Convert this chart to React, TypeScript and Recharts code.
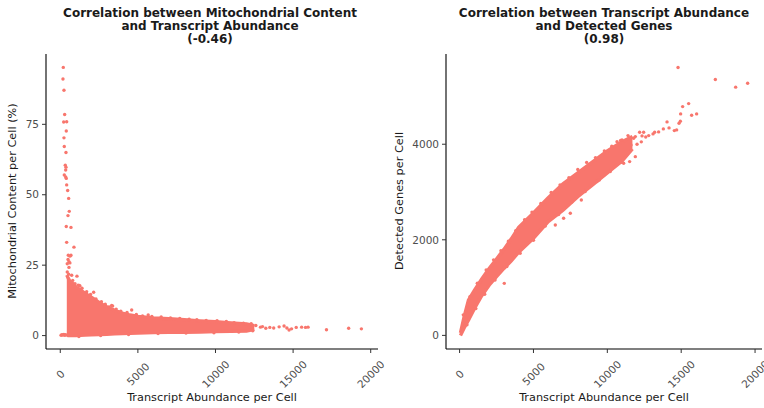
import React from "react";
import { ComposedChart, Area, Scatter, XAxis, YAxis } from "recharts";

const POINT = "#F8766D";
const FONT = "DejaVu Sans";

const xTicks = [0, 5000, 10000, 15000, 20000];
const mitoTicks = [0, 25, 50, 75];
const genesTicks = [0, 2000, 4000];

// left panel: dense core (low/high envelope) + individual cells around it
const mitoBandX = [420, 500, 600, 800, 1000, 1300, 1600, 2000, 2500, 3000, 3500, 4000, 4500, 5000, 6000, 7000, 8000, 9000, 10000, 11000, 12000, 12500];
const mitoBandLow = [0.2, 0, 0, 0, 0, 0.1, 0.2, 0.3, 0.4, 0.5, 0.6, 0.7, 0.8, 0.9, 1.1, 1.2, 1.2, 1.3, 1.4, 1.5, 1.6, 2.2];
const mitoBandHigh = [21.5, 20.5, 19.5, 18.5, 17.2, 16.2, 15.0, 13.6, 11.8, 10.2, 9.0, 8.0, 7.3, 6.8, 6.3, 6.0, 5.6, 5.2, 4.9, 4.5, 4.1, 3.5];
const mitoPoints: [number, number][] = [
  [193, 95.2], [174, 91.1], [238, 87.1], [283, 78.5], [412, 75.9], [219, 75.8], [386, 72.6], [238, 70.2],
  [258, 67.1], [367, 65.0], [322, 60.5], [367, 59.8], [348, 58.8], [258, 57.0], [348, 56.3], [386, 55.8],
  [412, 53.5], [476, 51.5], [541, 48.7], [579, 44.1], [496, 42.6], [386, 38.7], [689, 38.4], [412, 33.1],
  [882, 31.4], [515, 28.5], [689, 28.5], [624, 28.2], [500, 27.0], [560, 26.2], [450, 25.5], [620, 25.8],
  [560, 24.2], [734, 21.4], [1075, 21.1], [1224, 17.8], [1268, 17.6], [2150, 15.4], [3309, 10.7], [3373, 10.5],
  [4600, 9.1], [5665, 7.3],
  [50, 0.1], [110, 0.3], [170, 0.2], [230, 0.4], [290, 0.1], [350, 0.3],
  [450, 22.6], [540, 21.8], [800, 19.6], [950, 18.4], [1150, 17.9], [1400, 16.8], [1700, 15.6], [1950, 14.6],
  [2300, 13.0], [2650, 12.0], [2900, 11.1], [3150, 10.2], [3600, 9.4], [3900, 8.7], [4300, 8.2], [4900, 7.5],
  [5300, 7.0], [5900, 6.8], [6500, 6.6], [7100, 6.3], [7700, 6.1], [8300, 5.8], [8800, 5.6], [9400, 5.4],
  [10100, 5.3], [10700, 5.0], [11200, 4.6], [11800, 4.4], [12300, 4.2], [12600, 3.6],
  [12900, 3.0], [13028, 3.2], [13241, 2.6], [13500, 2.9], [13750, 2.7], [14100, 3.1], [14419, 3.4], [14600, 2.7],
  [14741, 2.0], [14900, 2.4], [15200, 2.9], [15550, 3.0], [15800, 2.9], [15964, 3.0], [17150, 2.1], [18580, 2.6],
  [19400, 2.4],
  [1200, -0.3], [2600, 0.0], [4400, 0.4], [6300, 0.7], [8100, 0.9], [9900, 1.0], [11500, 1.3], [12400, 1.7],
];

// right panel
const genesBandX = [60, 300, 600, 1000, 1500, 2000, 2500, 3000, 3500, 4000, 5000, 6000, 7000, 8000, 9000, 10000, 11000, 11700];
const genesBandLow = [0, 150, 320, 560, 830, 1050, 1230, 1400, 1560, 1740, 2030, 2380, 2620, 2900, 3150, 3400, 3650, 3900];
const genesBandHigh = [50, 380, 735, 940, 1180, 1400, 1600, 1800, 2020, 2260, 2560, 2880, 3170, 3400, 3630, 3860, 4050, 4160];
const genesPoints: [number, number][] = [
  [14787, 5604], [17312, 5353], [18687, 5194], [19499, 5277], [15504, 4850], [15098, 4787], [14963, 4635],
  [16046, 4635], [15707, 4607], [14042, 4467], [14943, 4482], [14854, 4440], [14177, 4342], [13792, 4321],
  [14536, 4285], [14692, 4300], [13473, 4258], [13094, 4216], [13203, 4251], [12458, 4251], [12187, 4251],
  [12349, 4174], [11895, 4160], [11781, 4126], [10657, 4054], [10995, 4090], [11604, 3985], [12011, 4000],
  [9980, 3811], [12300, 4050], [12600, 4150], [12800, 4180],
  [3026, 1089], [6479, 2310], [7041, 2450], [7495, 2555], [8240, 2834], [9459, 3252], [11104, 3602],
  [11510, 3636], [11895, 3740],
  [250, 430], [700, 810], [1200, 1090], [1800, 1370], [2300, 1580], [2800, 1770], [3300, 1970], [3800, 2190],
  [4400, 2420], [4900, 2580], [5500, 2760], [6200, 2990], [6800, 3150], [7400, 3300], [8000, 3470], [8600, 3620],
  [9200, 3720], [9800, 3860], [10300, 3960], [10900, 4080], [11400, 4180],
  [500, 220], [1100, 560], [1700, 860], [2400, 1160], [3200, 1440], [4100, 1720], [5000, 1990], [5800, 2290],
  [6700, 2530], [7600, 2790], [8500, 3010], [9300, 3220], [10200, 3430], [11000, 3620],
];

const Dot = (p: any) => <circle cx={p.cx} cy={p.cy} r={1.7} fill={POINT} />;

const XTick = ({ x, y, payload }: any) => {
  const cy = y + 19;
  return (
    <text
      x={x}
      y={cy}
      transform={`rotate(-45 ${x} ${cy})`}
      textAnchor="middle"
      dominantBaseline="central"
      fontSize={10.5}
      fontFamily={FONT}
      fill="#4d4d4d"
    >
      {payload.value}
    </text>
  );
};

function Panel({
  bandX,
  bandLow,
  bandHigh,
  points,
  yDomain,
  yTicks,
  yWidth,
  right,
}: {
  bandX: number[];
  bandLow: number[];
  bandHigh: number[];
  points: [number, number][];
  yDomain: [number, number];
  yTicks: number[];
  yWidth: number;
  right: number;
}) {
  const band = bandX.map((x, i) => ({ x, band: [bandLow[i], bandHigh[i]] }));
  const cells = points.map(([x, y]) => ({ x, y }));
  return (
    <ComposedChart
      width={382}
      height={408}
      data={band}
      margin={{ top: 54, right, bottom: 0, left: 0 }}
    >
      <XAxis
        type="number"
        dataKey="x"
        domain={[-920, 20470]}
        ticks={xTicks}
        interval={0}
        allowDataOverflow
        height={59}
        tickSize={4}
        tick={<XTick />}
        axisLine={{ stroke: "#000", strokeWidth: 1.1 }}
        tickLine={{ stroke: "#333" }}
      />
      <YAxis
        type="number"
        domain={yDomain}
        ticks={yTicks}
        interval={0}
        allowDataOverflow
        width={yWidth}
        tickSize={4}
        tickMargin={3}
        tick={{ fontSize: 10.5, fontFamily: FONT, fill: "#4d4d4d" }}
        axisLine={{ stroke: "#000", strokeWidth: 1.1 }}
        tickLine={{ stroke: "#333" }}
      />
      <Area
        dataKey="band"
        type="linear"
        fill={POINT}
        fillOpacity={1}
        stroke={POINT}
        strokeWidth={3.4}
        dot={false}
        activeDot={false}
        isAnimationActive={false}
      />
      <Scatter data={cells} dataKey="y" shape={Dot} isAnimationActive={false} />
    </ComposedChart>
  );
}

const titleStyle: React.CSSProperties = {
  position: "absolute",
  top: 7,
  width: 382,
  textAlign: "center",
  fontFamily: FONT,
  fontWeight: "bold",
  fontSize: 12,
  lineHeight: "13px",
  color: "#1a1a1a",
};

const xTitleStyle: React.CSSProperties = {
  position: "absolute",
  top: 391,
  width: 382,
  textAlign: "center",
  fontFamily: FONT,
  fontSize: 11.3,
  lineHeight: "14px",
  color: "#1a1a1a",
};

const yTitleStyle: React.CSSProperties = {
  position: "absolute",
  top: 194,
  width: 300,
  textAlign: "center",
  fontFamily: FONT,
  fontSize: 11.3,
  lineHeight: "14px",
  color: "#1a1a1a",
  transform: "rotate(-90deg)",
};

export default function App() {
  return (
    <div
      style={{
        position: "absolute",
        left: 0,
        top: 0,
        width: 764,
        height: 408,
        background: "#fff",
        overflow: "hidden",
      }}
    >
      <style>{".recharts-surface, .recharts-wrapper { overflow: visible !important; }"}</style>
      <div style={{ position: "absolute", left: 0, top: 0, zIndex: 1 }}>
        <Panel
          bandX={mitoBandX}
          bandLow={mitoBandLow}
          bandHigh={mitoBandHigh}
          points={mitoPoints}
          yDomain={[-4.76, 99.96]}
          yTicks={mitoTicks}
          yWidth={46}
          right={4}
        />
      </div>
      <div style={{ position: "absolute", left: 382, top: 0 }}>
        <Panel
          bandX={genesBandX}
          bandLow={genesBandLow}
          bandHigh={genesBandHigh}
          points={genesPoints}
          yDomain={[-285, 5888]}
          yTicks={genesTicks}
          yWidth={64}
          right={2}
        />
      </div>
      <div style={{ ...titleStyle, left: 19 }}>
        Correlation between Mitochondrial Content
        <br />
        and Transcript Abundance
        <br />
        (-0.46)
      </div>
      <div style={{ ...titleStyle, left: 413 }}>
        Correlation between Transcript Abundance
        <br />
        and Detected Genes
        <br />
        (0.98)
      </div>
      <div style={{ ...xTitleStyle, left: 21 }}>Transcript Abundance per Cell</div>
      <div style={{ ...xTitleStyle, left: 413 }}>Transcript Abundance per Cell</div>
      <div style={{ ...yTitleStyle, left: 12.5 - 150 }}>Mitochondrial Content per Cell (%)</div>
      <div style={{ ...yTitleStyle, left: 399.5 - 150 }}>Detected Genes per Cell</div>
    </div>
  );
}
